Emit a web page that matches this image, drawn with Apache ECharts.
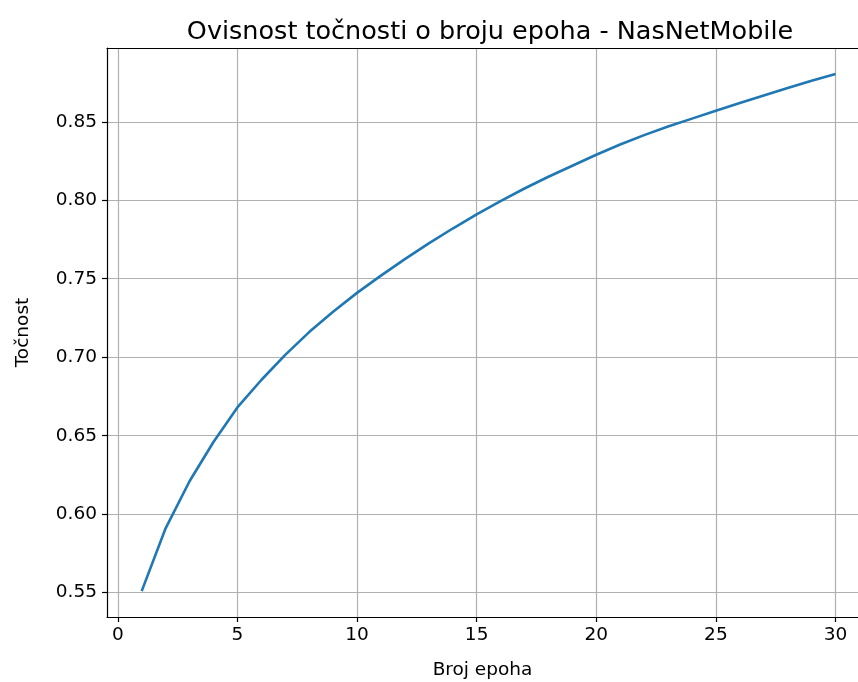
<!DOCTYPE html>
<html>
<head>
<meta charset="utf-8">
<script src="https://cdn.jsdelivr.net/npm/echarts@6/dist/echarts.min.js"></script>
<style>
  html, body { margin: 0; padding: 0; background: #fff; }
  #chart { width: 858px; height: 682px; }
</style>
</head>
<body>
<div id="chart"></div>
<script>
// epohe i tocnost (ocitano sa slike)
var epochs = [1, 2, 3, 4, 5, 6, 7, 8, 9, 10, 11, 12, 13, 14, 15,
  16, 17, 18, 19, 20, 21, 22, 23, 24, 25, 26, 27, 28, 29, 30]
var accuracy = [0.551, 0.591, 0.621, 0.646, 0.668, 0.6855, 0.7015, 0.716, 0.729, 0.741,
  0.752, 0.7625, 0.7725, 0.782, 0.791, 0.7995, 0.8075, 0.815, 0.822, 0.829,
  0.8355, 0.8415, 0.847, 0.852, 0.857, 0.862, 0.8668, 0.8715, 0.8761, 0.8805]
var xTicks = [0, 5, 10, 15, 20, 25, 30]
var yTicks = [0.55, 0.60, 0.65, 0.70, 0.75, 0.80, 0.85]

var font = 'DejaVu Sans'
var gridColor = '#b0b0b0'
var xMin = -0.45
var xMax = 30.94 // slika je odrezana desno

var myChart = echarts.init(document.getElementById('chart'))
var option = {
  animation: false,
  title: {
    text: 'Ovisnost točnosti o broju epoha - NasNetMobile',
    left: 485,
    top: 14,
    textAlign: 'center',
    textStyle: { fontFamily: font, fontSize: 25.5, fontWeight: 'normal', color: '#000' }
  },
  grid: {
    left: 107,
    right: 0,
    top: 48,
    bottom: 65,
    outerBoundsMode: 'none'
  },
  xAxis: [
    {
      type: 'value',
      min: xMin,
      max: xMax,
      name: 'Broj epoha',
      nameLocation: 'middle',
      nameGap: 44,
      nameTextStyle: { fontFamily: font, fontSize: 18.5, color: '#000' },
      axisLine: { show: true, onZero: false, lineStyle: { color: '#000', width: 1.2 } },
      axisTick: { show: true, inside: false, length: 5, customValues: xTicks, lineStyle: { color: '#000', width: 1.2 } },
      axisLabel: { customValues: xTicks, margin: 9, fontFamily: font, fontSize: 18.5, color: '#000' },
      splitLine: { show: true, lineStyle: { color: gridColor, width: 1.2 } }
    },
    {
      // gornji rub
      type: 'value',
      position: 'top',
      min: xMin,
      max: xMax,
      axisLine: { show: true, onZero: false, lineStyle: { color: '#000', width: 1.2 } },
      axisTick: { show: false },
      axisLabel: { show: false },
      splitLine: { show: false }
    }
  ],
  yAxis: {
    type: 'value',
    min: 0.5345,
    max: 0.897,
    name: 'Točnost',
    nameLocation: 'middle',
    nameGap: 74,
    nameRotate: 90,
    nameTextStyle: { fontFamily: font, fontSize: 18.5, color: '#000' },
    axisLine: { show: true, onZero: false, lineStyle: { color: '#000', width: 1.2 } },
    axisTick: { show: true, inside: false, length: 5, customValues: yTicks, lineStyle: { color: '#000', width: 1.2 } },
    axisLabel: {
      customValues: yTicks,
      margin: 10,
      fontFamily: font,
      fontSize: 18.5,
      color: '#000',
      formatter: function (v) { return v.toFixed(2) }
    },
    splitLine: { show: true, lineStyle: { color: gridColor, width: 1.2 } }
  },
  series: [
    {
      type: 'line',
      xAxisIndex: 0,
      data: epochs.map(function (e, i) { return [e, accuracy[i]] }),
      showSymbol: false,
      lineStyle: { color: '#1f77b4', width: 2.6 },
      itemStyle: { color: '#1f77b4' }
    }
  ]
}
myChart.setOption(option)
</script>
</body>
</html>
